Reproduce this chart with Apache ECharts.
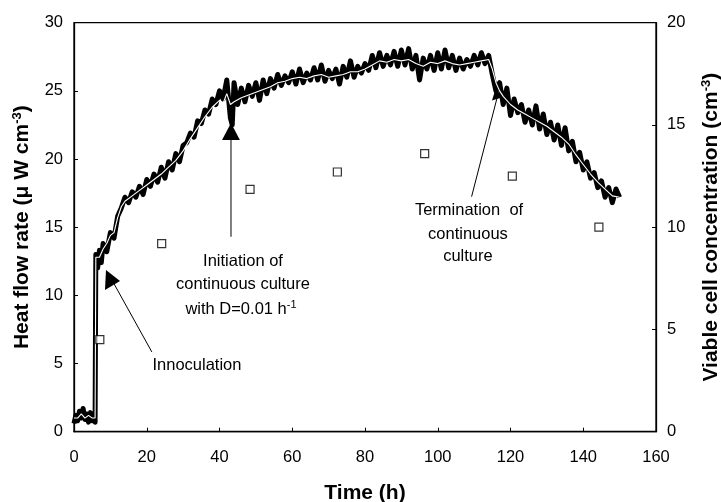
<!DOCTYPE html>
<html><head><meta charset="utf-8">
<script src="https://cdn.jsdelivr.net/npm/echarts@6/dist/echarts.min.js"></script>
<style>html,body{margin:0;padding:0;background:#fff}#c{width:721px;height:502px}</style>
</head><body><div id="c"></div>
<script>
// Heat flow rate (µW cm-3) – raw noisy trace [time h, value]
var heatRaw = [[0,0.6],[0.5,1.2],[1,0.8],[1.5,1.5],[2,1.0],[2.5,1.7],[3,0.9],[3.5,1.3],[4,0.7],[4.5,1.4],[5,0.8],[5.5,1.2],[5.8,0.7],[6,13.0],[6.5,12.0],[7,13.3],[7.5,12.4],[8,13.8],[9,13.2],[10,14.6],[11,14.2],[12,15.8],[13,16.4],[14,17.2],[15,16.8],[16,17.6],[17,17.2],[18,18.0],[19,17.4],[20,18.5],[21,18.0],[22,18.9],[23,18.3],[24,19.4],[25,18.6],[26,19.8],[27,19.2],[28,20.4],[29,19.8],[30,21.0],[31,21.2],[32,21.9],[33,21.6],[34,22.8],[35,22.6],[36,23.6],[37,23.3],[38,24.4],[39,24.0],[40,25.0],[41,24.4],[42,25.8],[43,23.0],[43.5,22.5],[44,25.6],[45,24.0],[46,25.2],[47,24.2],[48,25.4],[49,24.6],[50,25.6],[51,24.3],[52,25.8],[53,24.8],[54,25.9],[55,25.2],[56,26.2],[57,25.4],[58,26.1],[59,25.6],[60,26.4],[61,25.5],[62,26.6],[63,25.6],[64,26.3],[65,25.8],[66,26.7],[67,25.8],[68,26.9],[69,25.7],[70,26.5],[71,25.9],[72,26.6],[73,25.5],[74,26.8],[75,26.0],[76,27.2],[77,26.0],[78,26.8],[79,26.3],[80,27.0],[81,26.5],[82,27.6],[83,26.7],[84,27.8],[85,26.8],[86,27.6],[87,26.9],[88,27.9],[89,26.8],[90,28.0],[91,26.9],[92,28.1],[93,26.6],[94,27.6],[95,25.8],[96,27.4],[97,26.6],[98,27.6],[99,26.5],[100,27.8],[101,26.6],[102,28.0],[103,26.7],[104,27.6],[105,26.5],[106,27.4],[107,26.6],[108,27.3],[109,26.8],[110,27.6],[111,26.9],[112,27.8],[113,27.0],[114,27.6],[115,26.2],[116,25.0],[117,25.6],[118,24.0],[119,25.2],[120,23.2],[121,24.4],[122,23.4],[123,24.0],[124,22.7],[125,23.6],[126,22.5],[127,23.9],[128,22.2],[129,23.3],[130,21.8],[131,22.7],[132,21.4],[133,22.5],[134,21.0],[135,22.3],[136,20.6],[137,21.3],[138,19.8],[139,20.5],[140,19.2],[141,19.8],[142,18.6],[143,19.0],[144,17.9],[145,18.4],[146,17.2],[147,17.9],[148,16.8],[149,17.8],[150,17.2]];
// Heat flow rate – smoothed trace
var heatSmooth = [[0,1.0],[1,1.0],[2,1.3],[3,1.0],[4,1.2],[5,1.0],[5.8,1.0],[6,12.8],[7,12.8],[8,13.4],[9,13.8],[10,14.4],[11,14.6],[12,15.7],[13,16.5],[14,16.9],[16,17.3],[18,17.7],[20,18.1],[22,18.5],[24,18.9],[26,19.4],[28,19.9],[30,20.6],[32,21.5],[34,22.3],[36,23.1],[38,23.8],[40,24.3],[41,24.1],[42,24.8],[43,24.0],[44,24.2],[46,24.5],[48,24.7],[50,24.9],[52,25.1],[54,25.3],[56,25.6],[58,25.7],[60,25.9],[62,26.0],[64,25.9],[66,26.1],[68,26.2],[70,26.0],[72,26.1],[74,26.2],[76,26.4],[78,26.4],[80,26.6],[82,26.9],[84,27.2],[86,27.1],[88,27.3],[90,27.2],[92,27.3],[94,27.0],[96,26.8],[98,27.1],[100,27.0],[102,27.2],[104,27.0],[106,26.9],[108,27.0],[110,27.1],[112,27.2],[114,27.3],[115,26.6],[116,25.6],[117,25.0],[118,24.6],[120,24.0],[122,23.6],[124,23.3],[126,23.0],[128,22.7],[130,22.4],[132,22.0],[134,21.6],[136,21.1],[138,20.3],[140,19.6],[142,18.9],[144,18.3],[146,17.8],[148,17.3],[150,17.2]];
// Viable cell concentration
var cellTimes = [7.1, 24.1, 48.4, 72.4, 96.4, 120.5, 144.3];
var cellValues = [4.5, 9.2, 11.85, 12.7, 13.6, 12.5, 10.0];
var xTicks = {min:0, max:160, interval:20};
var yLeftTicks = {min:0, max:30, interval:5};
var yRightTicks = {min:0, max:20, interval:5};

var FF = "'Liberation Sans', Arial, sans-serif";
var chart = echarts.init(document.getElementById('c'), null, {renderer:'canvas'});
var cellData = cellTimes.map(function(t,i){return [t, cellValues[i]];});
var axisCommon = {
  axisLine:{show:true, onZero:false, lineStyle:{color:'#000', width:1.3}},
  axisTick:{show:true, inside:true, length:4, lineStyle:{color:'#000', width:1}},
  splitLine:{show:false},
  axisLabel:{color:'#000', fontSize:16.5, fontFamily:FF},
  nameTextStyle:{color:'#000', fontSize:21, fontWeight:'bold', fontFamily:FF}
};
var nameRich = {
  a:{fontSize:21, fontWeight:'bold', fontFamily:FF, color:'#000'},
  s:{fontSize:13, fontWeight:'bold', fontFamily:FF, color:'#000', verticalAlign:'top', padding:[0,0,10,0]}
};
chart.setOption({
  animation:false,
  backgroundColor:'#fff',
  grid:{left:74, right:65, top:22.7, bottom:70.3, containLabel:false, outerBoundsMode:'none',
        show:true, borderColor:'#000', borderWidth:1.3, backgroundColor:'transparent'},
  xAxis:Object.assign({}, axisCommon, {
    type:'value', min:xTicks.min, max:xTicks.max, interval:xTicks.interval,
    name:'Time (h)', nameLocation:'middle', nameGap:51,
    axisLabel:Object.assign({}, axisCommon.axisLabel, {margin:17})
  }),
  yAxis:[
    Object.assign({}, axisCommon, {
      type:'value', min:yLeftTicks.min, max:yLeftTicks.max, interval:yLeftTicks.interval, position:'left',
      name:'{a|Heat flow rate (μ W cm}{s|-3}{a|)}', nameLocation:'middle', nameGap:40,
      nameTextStyle:Object.assign({}, axisCommon.nameTextStyle, {rich:nameRich}),
      axisLabel:Object.assign({}, axisCommon.axisLabel, {margin:11})
    }),
    Object.assign({}, axisCommon, {
      type:'value', min:yRightTicks.min, max:yRightTicks.max, interval:yRightTicks.interval, position:'right',
      name:'{a|Viable cell concentration (cm}{s|-3}{a|)}', nameLocation:'middle', nameGap:44,
      nameRotate:90,
      nameTextStyle:Object.assign({}, axisCommon.nameTextStyle, {rich:nameRich}),
      axisLabel:Object.assign({}, axisCommon.axisLabel, {margin:11})
    })
  ],
  series:[
    {type:'line', data:heatRaw, xAxisIndex:0, yAxisIndex:0, showSymbol:false, lineStyle:{color:'#000', width:5, join:'round'}, z:2},
    {type:'line', data:heatSmooth, xAxisIndex:0, yAxisIndex:0, showSymbol:false, lineStyle:{color:'#fff', width:1.1}, z:3},
    {type:'scatter', data:cellData, xAxisIndex:0, yAxisIndex:1, symbol:'rect', symbolSize:8,
     itemStyle:{color:'#fff', borderColor:'#000', borderWidth:1.2}, z:4}
  ]
});

// annotations (data coordinates on left axis)
function P(t,v){return chart.convertToPixel({xAxisIndex:0, yAxisIndex:0}, [t,v]);}
function line(a,b,w){var p=P(a[0],a[1]), q=P(b[0],b[1]); return {type:'line', shape:{x1:p[0],y1:p[1],x2:q[0],y2:q[1]}, style:{stroke:'#000', lineWidth:w||1}, z:10};}
function tri(pts){return {type:'polygon', shape:{points:pts.map(function(d){return P(d[0],d[1]);})}, style:{fill:'#000'}, z:10};}
var txtStyle = {fontSize:16.5, fontFamily:FF, fill:'#000'};
function txt(t,v,s,rich){var p=P(t,v); return {type:'text', x:p[0], y:p[1], style:Object.assign({}, txtStyle, {text:s, align:'center', verticalAlign:'middle', rich:rich}), z:10};}
var supRich = {n:{fontSize:16.5, fontFamily:FF, fill:'#000'}, s:{fontSize:11, fontFamily:FF, fill:'#000', verticalAlign:'top', padding:[0,0,8,0]}};
var g = [
  line([21.4,5.85],[10.9,10.9]),
  tri([[8.8,11.86],[12.65,11.06],[8.52,10.4]]),
  txt(33.8,4.89,'Innoculation'),
  line([43.16,14.3],[43.16,21.4]),
  tri([[40.7,21.4],[45.6,21.4],[43.16,22.65]]),
  txt(46.46,12.51,'Initiation of'),
  txt(46.46,10.81,'continuous culture'),
  txt(45.9,9.0,'{n|with D=0.01 h}{s|-1}', supRich),
  line([109.3,17.24],[116.3,24.48]),
  tri([[114.9,24.3],[117.4,24.5],[116.1,25.3]]),
  txt(108.6,16.21,'Termination  of'),
  txt(108.3,14.5,'continuous'),
  txt(108.3,12.84,'culture')
];
chart.setOption({graphic:g});
</script></body></html>
